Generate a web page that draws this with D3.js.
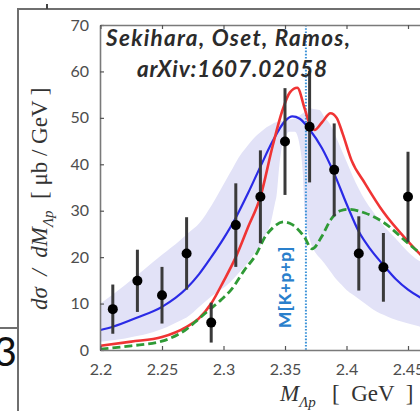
<!DOCTYPE html>
<html>
<head>
<meta charset="utf-8">
<script src="https://cdn.jsdelivr.net/npm/d3@7"></script>
<style>
  html, body { margin: 0; padding: 0; background: #fff; }
  svg { display: block; }
  text { white-space: pre; }
</style>
</head>
<body>
<svg id="chart" width="420" height="411"></svg>
<script>
// Measured spectrum: M(Λp) bins, dσ/dM values and errors
const dataMass = [2.21, 2.23, 2.25, 2.27, 2.29, 2.31, 2.33, 2.35, 2.37, 2.39, 2.41, 2.43, 2.45];
const dataValue = [8.8, 14.9, 11.8, 20.8, 5.9, 26.9, 33.0, 44.9, 48.1, 38.8, 20.8, 17.8, 33.0];
const dataError = [5.3, 6.7, 6.1, 7.8, 4.3, 9.0, 10.0, 11.5, 12.0, 10.0, 8.0, 7.4, 9.7];

// Fit curve (blue) with its uncertainty band
const fitMass  = [2.2, 2.21, 2.23, 2.25, 2.27, 2.28, 2.29, 2.30, 2.31, 2.32, 2.33, 2.34, 2.35, 2.356, 2.362, 2.37, 2.38, 2.39, 2.40, 2.41, 2.42, 2.43, 2.44, 2.45, 2.46, 2.48, 2.5];
const fitValue = [4.3, 5.0, 7.0, 9.3, 13.3, 16.3, 20.0, 24.0, 28.5, 33.8, 39.5, 45.0, 49.3, 50.3, 49.8, 47.5, 43.5, 38.0, 31.5, 25.5, 21.5, 18.3, 15.3, 13.0, 11.3, 9.0, 7.0];

const bandUpperMass  = [2.2, 2.22, 2.25, 2.265, 2.281, 2.29, 2.305, 2.315, 2.326, 2.335, 2.342, 2.35, 2.357, 2.362, 2.37, 2.378, 2.388, 2.396, 2.405, 2.415, 2.428, 2.441, 2.458, 2.48, 2.5];
const bandUpperValue = [10.0, 14.0, 20.5, 23.7, 27.5, 31.0, 38.0, 42.5, 46.0, 48.0, 49.0, 49.5, 49.8, 50.5, 52.0, 51.7, 48.0, 43.1, 37.5, 32.3, 27.5, 23.7, 19.4, 16.0, 13.5];
const bandLowerMass  = [2.2, 2.22, 2.25, 2.27, 2.29, 2.305, 2.317, 2.33, 2.338, 2.343, 2.3455, 2.348, 2.353, 2.358, 2.362, 2.3645, 2.366, 2.37, 2.376, 2.382, 2.39, 2.40, 2.415, 2.427, 2.44, 2.46, 2.5];
const bandLowerValue = [1.8, 2.5, 4.5, 7.0, 11.5, 14.5, 17.9, 22.5, 27.0, 33.0, 40.0, 44.5, 47.0, 47.0, 44.0, 38.0, 30.0, 24.0, 20.5, 18.7, 15.8, 12.9, 10.0, 7.9, 6.5, 5.0, 3.3];

// Model curve (red, solid)
const modelMass  = [2.2, 2.225, 2.25, 2.27, 2.28, 2.29, 2.30, 2.31, 2.32, 2.33, 2.34, 2.348, 2.354, 2.36, 2.366, 2.371, 2.374, 2.38, 2.387, 2.392, 2.397, 2.404, 2.415, 2.43, 2.45, 2.47, 2.5];
const modelValue = [0.9, 1.8, 2.8, 5.0, 6.8, 10.0, 14.8, 20.0, 26.5, 33.0, 44.0, 51.7, 55.5, 56.5, 52.0, 48.0, 47.4, 49.0, 51.0, 50.0, 46.5, 40.9, 35.9, 29.7, 23.4, 18.0, 12.0];

// Model curve (green, dashed)
const altMass  = [2.2, 2.225, 2.25, 2.27, 2.279, 2.29, 2.298, 2.306, 2.317, 2.327, 2.333, 2.34, 2.349, 2.356, 2.3656, 2.372, 2.38, 2.387, 2.395, 2.402, 2.415, 2.43, 2.45, 2.46, 2.48, 2.5];
const altValue = [0.2, 0.9, 1.9, 4.5, 6.5, 9.0, 10.8, 12.9, 17.2, 20.8, 24.0, 26.3, 27.6, 27.0, 24.4, 21.8, 24.5, 28.0, 30.0, 30.3, 29.5, 27.5, 23.0, 20.8, 17.0, 14.0];

// Threshold marker
const thresholdMass = 2.367;
const thresholdLabel = "M[K+p+p]";

// Axis ticks
const xTicks = [2.2, 2.25, 2.3, 2.35, 2.4, 2.45];
const xTickLabels = ["2.2", "2.25", "2.3", "2.35", "2.4", "2.45"];
const yTicks = [0, 10, 20, 30, 40, 50, 60, 70];

const titleLines = ["Sekihara, Oset, Ramos,", "arXiv:1607.02058"];

const svg = d3.select("#chart");
const plotLeft = 100, plotTop = 25, plotBottom = 350;
const sans = "Lato, 'Open Sans', sans-serif";

const x = d3.scaleLinear().domain([2.2, 2.5]).range([100.5, 469.5]);
const y = d3.scaleLinear().domain([0, 70]).range([plotBottom, plotTop]);

// Surrounding document frame
const frame = svg.append("g").attr("stroke", "#6f6f6f").attr("stroke-width", 2).attr("fill", "none");
frame.append("line").attr("x1", 17).attr("x2", 420).attr("y1", 9).attr("y2", 9);
frame.append("line").attr("x1", 18).attr("x2", 18).attr("y1", 8).attr("y2", 411);
frame.append("line").attr("x1", 0).attr("x2", 18).attr("y1", 328).attr("y2", 328);
frame.append("line").attr("x1", 47).attr("x2", 47).attr("y1", 4).attr("y2", 9).attr("stroke", "#444");
svg.append("text").attr("x", 17).attr("y", 366).attr("text-anchor", "end")
  .attr("font-family", sans).attr("font-size", 40).attr("fill", "#111").text("3");

// Clip to plot area
svg.append("defs").append("clipPath").attr("id", "plotclip")
  .append("rect").attr("x", plotLeft).attr("y", plotTop)
  .attr("width", 420 - plotLeft).attr("height", plotBottom - plotTop);
const plot = svg.append("g").attr("clip-path", "url(#plotclip)");

// Uncertainty band
const upperFn = d3.scaleLinear().domain(bandUpperMass).range(bandUpperValue);
const lowerFn = d3.scaleLinear().domain(bandLowerMass).range(bandLowerValue);
const bandMass = Array.from(new Set([...bandUpperMass, ...bandLowerMass])).sort((a, b) => a - b);
const bandArea = d3.area()
  .x(d => x(d))
  .y0(d => y(lowerFn(d)))
  .y1(d => y(upperFn(d)))
  .curve(d3.curveMonotoneX);
plot.append("path").datum(bandMass).attr("d", bandArea).attr("fill", "#e2e2f7");

// Threshold dotted line
plot.append("line")
  .attr("x1", x(thresholdMass)).attr("x2", x(thresholdMass))
  .attr("y1", plotTop).attr("y2", plotBottom)
  .attr("stroke", "#3d93d8").attr("stroke-width", 2).attr("stroke-dasharray", "1.6,1.6");

const lineGen = d3.line().x(d => x(d[0])).y(d => y(d[1])).curve(d3.curveMonotoneX);
const zip = (a, b) => a.map((v, i) => [v, b[i]]);

plot.append("path").datum(zip(fitMass, fitValue)).attr("d", lineGen)
  .attr("fill", "none").attr("stroke", "#2a2ae6").attr("stroke-width", 2.2);
plot.append("path").datum(zip(modelMass, modelValue)).attr("d", lineGen)
  .attr("fill", "none").attr("stroke", "#f03434").attr("stroke-width", 2.6);
plot.append("path").datum(zip(altMass, altValue)).attr("d", lineGen)
  .attr("fill", "none").attr("stroke", "#2f9a36").attr("stroke-width", 2.8)
  .attr("stroke-dasharray", "8,4");

// Data points with error bars
const pts = plot.append("g");
pts.selectAll("line").data(dataMass).join("line")
  .attr("x1", d => x(d)).attr("x2", d => x(d))
  .attr("y1", (d, i) => y(dataValue[i] + dataError[i]))
  .attr("y2", (d, i) => y(dataValue[i] - dataError[i]))
  .attr("stroke", "#3a3a3a").attr("stroke-width", 3);
pts.selectAll("circle").data(dataMass).join("circle")
  .attr("cx", d => x(d)).attr("cy", (d, i) => y(dataValue[i]))
  .attr("r", 5).attr("fill", "#000");

// Threshold label
svg.append("text")
  .attr("transform", `translate(${x(thresholdMass) - 15},${287}) rotate(-90)`)
  .attr("text-anchor", "middle")
  .attr("font-family", sans).attr("font-weight", 900)
  .attr("font-size", 17).attr("letter-spacing", 0.6).attr("fill", "#2a80cc")
  .text(thresholdLabel);

// Axes
const axisColor = "#7a7a7a";
const styleAxis = g => {
  g.select(".domain").attr("stroke", axisColor).attr("stroke-width", 1.6);
  g.selectAll(".tick line").attr("stroke", "#555").attr("stroke-width", 1.2);
  g.selectAll(".tick text").attr("fill", "#4d4d4d")
    .attr("font-family", sans).attr("font-size", 16);
};
svg.append("g").attr("transform", `translate(${plotLeft},0)`)
  .call(d3.axisLeft(y).tickValues(yTicks).tickSize(-4).tickSizeOuter(0).tickPadding(11))
  .call(styleAxis);
svg.append("g").attr("transform", `translate(0,${plotBottom})`)
  .call(d3.axisBottom(x).tickValues(xTicks).tickFormat((d, i) => xTickLabels[i])
    .tickSize(-4).tickSizeOuter(0).tickPadding(14))
  .call(styleAxis);
svg.append("g").attr("transform", `translate(0,${plotTop})`)
  .call(d3.axisTop(x).tickValues(xTicks).tickFormat("").tickSize(-4).tickSizeOuter(0))
  .call(styleAxis);

// Title
const title = svg.append("g").attr("font-family", sans)
  .attr("font-weight", "bold").attr("font-style", "italic").attr("font-size", 22.5).attr("fill", "#2b2b2b");
title.append("text").attr("x", 106).attr("y", 46)
  .attr("textLength", 244).attr("lengthAdjust", "spacing").text(titleLines[0]);
title.append("text").attr("x", 137).attr("y", 77)
  .attr("textLength", 190).attr("lengthAdjust", "spacing").text(titleLines[1]);

// Axis titles
const serif = "'Liberation Serif', 'Times New Roman', serif";
const xt = svg.append("text").attr("font-family", serif).attr("font-size", 23).attr("fill", "#333")
  .attr("x", 280).attr("y", 401);
xt.append("tspan").attr("font-style", "italic").text("M");
xt.append("tspan").attr("font-style", "italic").attr("font-size", 15).attr("dy", 6).text("Λp");
xt.append("tspan").attr("dy", -6).attr("x", 332).text("[  GeV  ]");

const yt = svg.append("text").attr("font-family", serif).attr("font-size", 23).attr("fill", "#333")
  .attr("transform", "translate(47,310) rotate(-90)");
yt.append("tspan").attr("font-style", "italic").text("dσ  /  dM");
yt.append("tspan").attr("font-style", "italic").attr("font-size", 15).attr("dy", 6).text("Λp");
yt.append("tspan").attr("dy", -6).text("  [ μb / GeV ]");
</script>
</body>
</html>
